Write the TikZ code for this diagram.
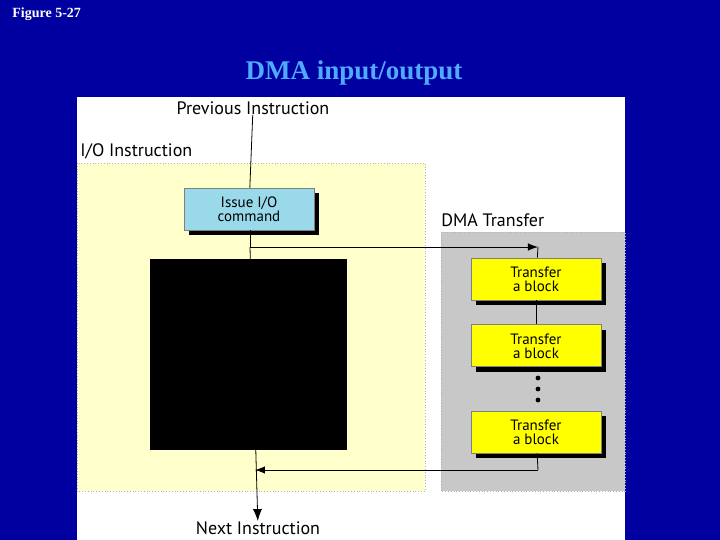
\documentclass[tikz,border=0pt]{standalone}
\usepackage{fontspec}
\setmainfont{Liberation Serif}
\newfontfamily\figsans{PT Sans}
\usetikzlibrary{positioning}
\usetikzlibrary{arrows.meta}
\definecolor{slideblue}{RGB}{0, 0, 160}
\definecolor{titleblue}{RGB}{80, 170, 255}
\definecolor{iopale}{RGB}{255, 255, 204}
\definecolor{dmagray}{RGB}{200, 200, 200}
\definecolor{cmdblue}{RGB}{153, 217, 234}
\definecolor{blockyellow}{RGB}{255, 255, 0}
\tikzstyle{stepbox} = [
	draw=gray,
	minimum width=65pt,
	minimum height=21pt,
	inner sep=0pt,
	align=center,
	font=\figsans\fontsize{7.5}{7}\selectfont,
	drop shadow={shadow xshift=2.5pt, shadow yshift=-2.5pt, fill=black, opacity=1}
]
\tikzstyle{cmdbox} = [stepbox, fill=cmdblue]
\tikzstyle{blkbox} = [stepbox, fill=blockyellow]
\tikzstyle{caption} = [font=\figsans\fontsize{9}{10}\selectfont, inner sep=0pt]
\usetikzlibrary{shadows}

\begin{document}
\begin{tikzpicture}[x=0.5pt, y=-0.5pt]
	\useasboundingbox (0,0) rectangle (720,540);
	\fill[slideblue] (0,0) rectangle (720,540);
	
	% Slide headings
	\node[anchor=west, text=white, font=\bfseries\fontsize{7}{8}\selectfont, inner sep=0pt] (fig) at (12,14) {Figure 5-27};
	\node[text=titleblue, font=\bfseries\fontsize{13.5}{15}\selectfont, inner sep=0pt] (title) at (354,73) {DMA input/output};
	
	% Panels
	\fill[white] (77,97) rectangle (625,540);
	\filldraw[fill=iopale, draw=gray!60, densely dotted] (77,163) rectangle (425,491);
	\filldraw[fill=dmagray, draw=gray!60, densely dotted] (441,232) rectangle (625,491);
	
	% Captions
	\node[caption] (prev) at (253,108) {Previous Instruction};
	\node[caption, anchor=west] (ioi) at (80,151) {I/O Instruction};
	\node[caption, anchor=west] (dmat) at (441,220) {DMA Transfer};
	\node[caption] (next) at (258,528) {Next Instruction};
	
	% Boxes
	\node[cmdbox] (issue) at (249,209) {Issue I/O\\command};
	\fill[black] (150,259) rectangle (347,450);
	\node[blkbox] (blk1) at (536,279) {Transfer\\ a block};
	\node[blkbox, below=12pt of blk1] (blk2) {Transfer\\ a block};
	\node[blkbox] (blk3) at (536,432) {Transfer\\ a block};
	\foreach \y in {378,389,400}
		\fill (538,\y) circle (1.2pt);
	
	% Flow
	\coordinate (split) at (250,247);
	\coordinate (dmain) at (538,247);
	\coordinate (dmaout) at (538,470);
	\coordinate (back) at (255,470);
	\draw[thin] (prev) -- (issue);
	\draw[thin] (issue.south -| split) -- (split);
	\draw[thin, -{Latex[length=5pt]}] (split) -- (dmain);
	\draw[thin] (dmain) -- (blk1);
	\draw[thin] (blk1) -- (blk2);
	\draw[thin] (blk3) -- (dmaout);
	\draw[thin, -{Latex[length=5pt]}] (dmaout) -- (back);
	\draw[thin, -{Latex[length=6pt]}] (split) -- (next);
\end{tikzpicture}
\end{document}
